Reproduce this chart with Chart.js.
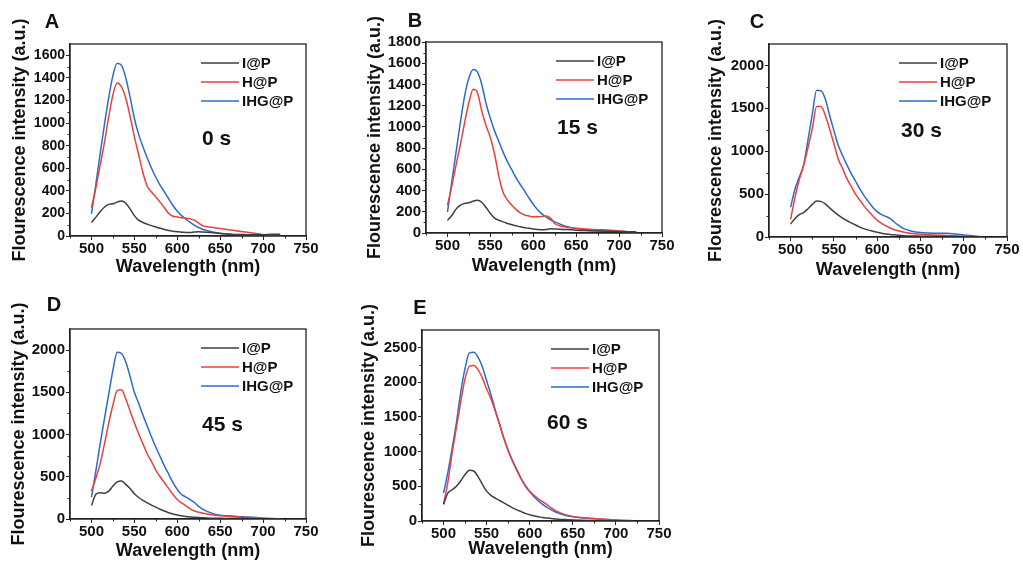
<!DOCTYPE html>
<html>
<head>
<meta charset="utf-8">
<script src="https://cdn.jsdelivr.net/npm/chart.js@4.4.0/dist/chart.umd.min.js"></script>
<style>
  body { margin: 0; background: #fff; width: 1023px; height: 563px; overflow: hidden; position: relative; }
  canvas { position: absolute; }
</style>
</head>
<body>
<canvas id="cA" width="317" height="282" style="left:9px;top:0px"></canvas>
<canvas id="cB" width="318" height="282" style="left:364px;top:0px"></canvas>
<canvas id="cC" width="317" height="282" style="left:705px;top:0px"></canvas>
<canvas id="cD" width="318" height="283" style="left:8px;top:280px"></canvas>
<canvas id="cE" width="321" height="283" style="left:358px;top:280px"></canvas>
<script>
// shared axis data
const wavelengths = [500,505,510,515,520,525,530,535,540,545,550,555,560,565,570,575,580,585,590,595,600,605,610,615,620,625,630,640,650,660,670,680,690,700,710,720]
const xTicks = [500,550,600,650,700,750]
const seriesNames = ["I@P", "H@P", "IHG@P"]
const panelLetters = ["A", "B", "C", "D", "E"]
const timeLabels = ["0 s", "15 s", "30 s", "45 s", "60 s"]

// y tick labels per panel
const yTicksA = [0,200,400,600,800,1000,1200,1400,1600]
const yTicksB = [0,200,400,600,800,1000,1200,1400,1600,1800]
const yTicksC = [0,500,1000,1500,2000]
const yTicksD = [0,500,1000,1500,2000]
const yTicksE = [0,500,1000,1500,2000,2500]

// 0 s
const iP_0 = [120,165,215,255,280,285,300,310,290,240,180,140,120,105,92,80,68,58,48,42,38,34,32,30,36,38,35,30,22,18,14,12,10,10,16,16]
const hP_0 = [250,420,620,820,1050,1250,1355,1320,1220,1060,880,720,560,440,390,345,300,250,200,175,168,162,158,152,140,115,90,78,66,55,45,35,25,12,6,3]
const ihgP_0 = [195,450,720,980,1220,1420,1530,1510,1400,1230,1040,900,790,690,600,520,450,390,330,270,220,180,150,120,95,75,58,38,25,16,10,7,5,4,3,2]

// 15 s
const iP_15 = [119,165,225,262,278,285,300,308,290,240,185,140,120,105,90,78,68,58,50,44,38,34,31,33,40,38,35,33,27,23,20,18,16,14,12,10]
const hP_15 = [260,440,640,830,1040,1230,1355,1320,1150,1010,900,740,530,380,310,262,220,190,170,160,153,152,155,160,140,90,70,52,45,38,33,30,26,20,12,8]
const ihgP_15 = [198,480,760,1040,1290,1460,1540,1515,1400,1220,1080,960,860,760,670,595,520,455,395,330,270,220,180,150,125,105,88,58,42,32,25,20,16,13,10,8]

// 30 s
const iP_30 = [152,215,260,285,330,380,420,415,385,340,295,255,220,190,165,140,115,95,80,68,56,45,36,30,25,20,16,12,10,8,6,5,4,3,2,2]
const hP_30 = [205,460,670,830,1040,1260,1520,1520,1420,1260,1090,910,800,680,590,500,430,360,300,245,195,160,130,105,85,70,58,40,32,26,21,18,14,10,6,3]
const ihgP_30 = [347,560,700,840,1130,1430,1710,1705,1610,1420,1240,1070,950,840,740,650,560,480,410,345,295,260,240,215,172,135,100,68,52,46,43,43,35,24,14,4]

// 45 s
const iP_45 = [160,290,310,305,330,390,440,450,410,360,300,255,220,190,165,140,115,95,75,60,48,38,30,25,20,17,15,10,8,7,6,5,4,3,2,2]
const hP_45 = [330,480,650,880,1130,1350,1520,1530,1420,1280,1140,1010,890,770,680,580,500,430,360,290,230,190,155,120,95,80,68,50,38,30,25,18,14,8,4,2]
const ihgP_45 = [260,560,880,1180,1470,1760,1975,1960,1860,1690,1500,1370,1230,1100,970,850,740,630,530,430,350,290,260,230,195,150,115,70,45,38,30,25,20,10,5,3]

// 60 s
const iP_60 = [240,400,450,500,580,670,730,720,640,530,430,370,330,295,260,225,190,160,135,110,90,75,62,50,42,36,30,20,14,10,7,5,4,3,2,1]
const hP_60 = [240,560,980,1350,1720,2050,2230,2240,2180,2060,1900,1760,1580,1390,1190,1010,860,730,610,510,430,370,320,280,235,190,150,95,65,50,40,30,20,12,7,4]
const ihgP_60 = [400,700,1050,1420,1860,2200,2420,2430,2360,2220,2020,1820,1600,1400,1190,1020,870,740,610,500,420,350,290,240,195,160,130,85,60,46,37,30,22,15,9,5]

const seriesColors = ["#3f3f3f", "#e8413e", "#2d6bc9"]
const FONT = '"Liberation Sans", Arial, sans-serif'

// frame, minor ticks, panel letter, legend and time label
const panelDecor = {
    id: "panelDecor",
    afterDraw(chart, args, opts) {
        const { ctx, chartArea: a, scales } = chart
        ctx.save()
        ctx.strokeStyle = "#222"
        ctx.lineWidth = 1.3
        ctx.strokeRect(a.left, a.top, a.right - a.left, a.bottom - a.top)

        ctx.lineWidth = 1
        ctx.beginPath()
        opts.xMinor.forEach((v) => {
            const px = Math.round(scales.x.getPixelForValue(v)) + 0.5
            ctx.moveTo(px, a.bottom)
            ctx.lineTo(px, a.bottom + 2.5)
        })
        opts.yMinor.forEach((v) => {
            const py = Math.round(scales.y.getPixelForValue(v)) + 0.5
            ctx.moveTo(a.left, py)
            ctx.lineTo(a.left - 2.5, py)
        })
        ctx.stroke()

        ctx.fillStyle = "#111"
        ctx.textBaseline = "middle"
        ctx.textAlign = "center"
        ctx.font = `bold 20px ${FONT}`
        ctx.fillText(opts.letter, a.left + opts.letterPos[0], a.top + opts.letterPos[1])

        ctx.textAlign = "left"
        ctx.font = `bold 15px ${FONT}`
        chart.data.datasets.forEach((ds, i) => {
            const y = a.top + 19 + i * 19
            const x0 = a.right - opts.legendRight
            ctx.strokeStyle = ds.borderColor
            ctx.lineWidth = 1.5
            ctx.beginPath()
            ctx.moveTo(x0, y)
            ctx.lineTo(x0 + 38, y)
            ctx.stroke()
            ctx.fillText(ds.label, x0 + 41, y + 1)
        })

        ctx.font = `bold 21px ${FONT}`
        ctx.fillText(opts.note, a.right + opts.notePos[0], a.top + opts.notePos[1])
        ctx.restore()
    }
}

const makeChart = (p) => {
    const canvas = document.querySelector("#" + p.id)
    const minorX = xTicks.slice(0, -1).map((v) => v + 25).concat([475])
    const yStep = p.yTicks[1] - p.yTicks[0]
    const minorY = []
    for (let v = yStep / 2; v < p.yMax; v += yStep) minorY.push(v)

    return new Chart(canvas, {
        type: "line",
        data: {
            datasets: p.series.map((vals, i) => ({
                label: seriesNames[i],
                data: wavelengths.map((w, j) => ({ x: w, y: vals[j] })),
                borderColor: seriesColors[i],
                borderWidth: 1.5,
                pointRadius: 0,
                cubicInterpolationMode: "monotone",
                fill: false
            }))
        },
        options: {
            responsive: false,
            animation: false,
            devicePixelRatio: 1,
            layout: { padding: { left: 0, top: p.padTop, right: p.padRight, bottom: p.padBottom } },
            plugins: {
                legend: { display: false },
                tooltip: { enabled: false },
                panelDecor: {
                    letter: p.letter, letterPos: p.letterPos,
                    note: p.note, notePos: p.notePos,
                    legendRight: p.legendRight,
                    xMinor: minorX, yMinor: minorY
                }
            },
            scales: {
                x: {
                    type: "linear", min: 475, max: 750,
                    afterBuildTicks: (s) => { s.ticks = xTicks.map((v) => ({ value: v })) },
                    afterFit: (s) => { s.height = p.xAxisH },
                    grid: { drawOnChartArea: false, tickLength: 4, color: "#222" },
                    border: { color: "#222", width: 1.3 },
                    ticks: { color: "#111", padding: 0, maxRotation: 0, autoSkip: false, callback: (v) => String(v), font: { family: FONT, weight: "bold", size: 15 } },
                    title: { display: true, text: "Wavelength (nm)", color: "#111", padding: { top: 0, bottom: 0 }, font: { family: FONT, weight: "bold", size: 18 } }
                },
                y: {
                    type: "linear", min: 0, max: p.yMax,
                    afterBuildTicks: (s) => { s.ticks = p.yTicks.map((v) => ({ value: v })) },
                    afterFit: (s) => { s.width = p.yAxisW },
                    grid: { drawOnChartArea: false, tickLength: 4, color: "#222" },
                    border: { color: "#222", width: 1.3 },
                    ticks: { color: "#111", padding: 1, autoSkip: false, callback: (v) => String(v), font: { family: FONT, weight: "bold", size: p.yFont } },
                    title: { display: true, text: "Flourescence intensity (a.u.)", color: "#111", padding: { top: 0, bottom: 0 }, font: { family: FONT, weight: "bold", size: 18 } }
                }
            }
        },
        plugins: [panelDecor]
    })
}

const panels = [
    { id: "cA", series: [iP_0, hP_0, ihgP_0], yTicks: yTicksA, yMax: 1700, yFont: 14,
      padTop: 44, padRight: 20, padBottom: 4.2, xAxisH: 41.8, yAxisW: 61,
      letterPos: [-18, -22], notePos: [-104, 95], legendRight: 105 },
    { id: "cB", series: [iP_15, hP_15, ihgP_15], yTicks: yTicksB, yMax: 1800, yFont: 15,
      padTop: 42, padRight: 20, padBottom: 5.2, xAxisH: 43.8, yAxisW: 62,
      letterPos: [-11, -21], notePos: [-105, 86], legendRight: 106 },
    { id: "cC", series: [iP_30, hP_30, ihgP_30], yTicks: yTicksC, yMax: 2250, yFont: 15,
      padTop: 44, padRight: 15, padBottom: 1.2, xAxisH: 43.8, yAxisW: 64,
      letterPos: [-12, -22], notePos: [-106, 87], legendRight: 108 },
    { id: "cD", series: [iP_45, hP_45, ihgP_45], yTicks: yTicksD, yMax: 2250, yFont: 15,
      padTop: 49, padRight: 20, padBottom: 1.2, xAxisH: 42.8, yAxisW: 62,
      letterPos: [-16, -24], notePos: [-104, 96], legendRight: 105 },
    { id: "cE", series: [iP_60, hP_60, ihgP_60], yTicks: yTicksE, yMax: 2750, yFont: 15,
      padTop: 50, padRight: 20, padBottom: 3.2, xAxisH: 38.8, yAxisW: 64,
      letterPos: [-2, -22], notePos: [-112, 93], legendRight: 108 }
]

panels.forEach((p, i) => {
    p.letter = panelLetters[i]
    p.note = timeLabels[i]
    makeChart(p)
})
</script>
</body>
</html>
